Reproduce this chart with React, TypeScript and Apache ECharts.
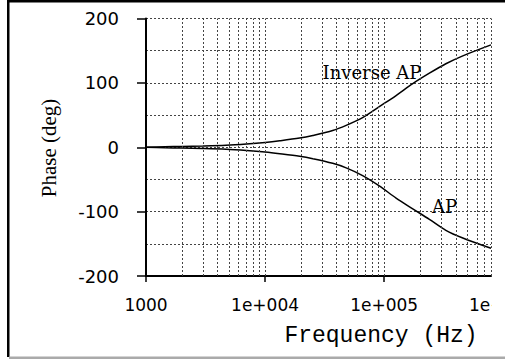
import React, { useEffect, useRef } from "react";
import * as echarts from "echarts";

const freqHz = [1000, 1440, 2000, 3000, 4700, 7000, 10000, 13300, 19500, 25200, 37000, 48000, 66000, 91000, 126000, 174000, 240000, 330000, 458000, 790000];
const inverseAP = [0, 0.8, 1.3, 1.9, 3, 5, 7.4, 10, 14.2, 18.3, 26, 34, 46, 63, 80.3, 98.8, 115, 129.7, 142, 159];
const allPass = [0, -0.8, -1.3, -1.9, -3, -5, -7.4, -10, -14, -17.8, -25, -32, -44, -60, -79, -95.7, -112, -129, -141, -157];
const gridFreqs = [2000, 3000, 4000, 5000, 6000, 7000, 8000, 9000, 10000, 20000, 30000, 40000, 50000, 60000, 70000, 80000, 90000, 100000, 200000, 300000, 400000, 500000, 600000, 700000, 790000];
const xTickValues = [1000, 10000, 100000];
const xMin = 1000;
const xMax = 790000;
const yMin = -200;
const yMax = 200;

function fmtX(v: number): string {
  const e = Math.round(Math.log10(v));
  if (e <= 3) return String(Math.round(v));
  return "1e+00" + e;
}

export default function App() {
  const ref = useRef<HTMLDivElement>(null);
  useEffect(() => {
    if (!ref.current) return;
    const chart = echarts.init(ref.current, null, { renderer: "svg" });
    const dotted = { type: [2, 2] as any, color: "#444", width: 1 };
    chart.setOption({
      animation: false,
      backgroundColor: "#fff",
      grid: { left: 146, right: 14, top: 18.5, bottom: 84, containLabel: false },
      xAxis: {
        type: "log",
        logBase: 10,
        min: xMin,
        max: xMax,
        axisLine: { show: true, onZero: false, lineStyle: { color: "#000", width: 2 } },
        axisTick: { show: true, length: 6, customValues: xTickValues, lineStyle: { color: "#000", width: 1.5 } },
        splitLine: { show: false },
        minorTick: { show: false },
        axisLabel: {
          customValues: xTickValues,
          formatter: (v: number) => fmtX(v),
          margin: 20,
          color: "#000",
          fontFamily: "DejaVu Sans",
          fontSize: 17,
        },
      },
      yAxis: {
        type: "value",
        min: yMin,
        max: yMax,
        interval: 100,
        axisLine: { show: true, onZero: false, lineStyle: { color: "#000", width: 2 } },
        axisTick: { show: true, length: 9, lineStyle: { color: "#000", width: 1.5 } },
        minorTick: { show: false, splitNumber: 2 },
        splitLine: { show: true, lineStyle: dotted },
        minorSplitLine: { show: true, lineStyle: dotted },
        axisLabel: { margin: 27, color: "#000", fontFamily: "DejaVu Sans", fontSize: 18 },
      },
      series: [
        {
          type: "line",
          name: "Inverse AP",
          data: freqHz.map((f, i) => [f, inverseAP[i]]),
          showSymbol: false,
          smooth: 0.3,
          lineStyle: { color: "#000", width: 1.5 },
          z: 3,
        },
        {
          type: "line",
          name: "AP",
          data: freqHz.map((f, i) => [f, allPass[i]]),
          showSymbol: false,
          smooth: 0.3,
          lineStyle: { color: "#000", width: 1.5 },
          z: 3,
          markLine: {
            silent: true,
            symbol: ["none", "none"],
            label: { show: false },
            lineStyle: dotted,
            data: gridFreqs.map((f) => ({ xAxis: f })),
          },
        },
      ],
      graphic: [
        { type: "rect", shape: { x: 7, y: 0, width: 498, height: 2.5 }, style: { fill: "#000" }, z: 100 },
        { type: "rect", shape: { x: 7, y: 0, width: 2.5, height: 357 }, style: { fill: "#000" }, z: 100 },
        { type: "rect", shape: { x: 9, y: 356.5, width: 496, height: 2.5 }, style: { fill: "#aaa" }, z: 100 },
        {
          type: "text",
          x: 49,
          y: 148,
          rotation: Math.PI / 2,
          style: { text: "Phase (deg)", font: "21px 'Liberation Serif'", fill: "#000", align: "center", verticalAlign: "middle" },
          z: 100,
        },
        {
          type: "text",
          x: 381,
          y: 336,
          style: { text: "Frequency (Hz)", font: "23px 'Liberation Mono'", fill: "#000", align: "center", verticalAlign: "middle" },
          z: 100,
        },
        {
          type: "text",
          x: 372,
          y: 72,
          style: { text: "Inverse AP", font: "18px 'DejaVu Serif'", fill: "#000", align: "center", verticalAlign: "middle" },
          z: 100,
        },
        {
          type: "text",
          x: 444.5,
          y: 206,
          style: { text: "AP", font: "18px 'DejaVu Serif'", fill: "#000", align: "center", verticalAlign: "middle" },
          z: 100,
        },
        {
          type: "text",
          x: 503,
          y: 296,
          style: { text: "1e+006", font: "17px 'DejaVu Sans'", fill: "#000", align: "center", verticalAlign: "top" },
          z: 100,
        },
        { type: "rect", shape: { x: 492, y: 290, width: 13, height: 28 }, style: { fill: "#fff" }, z: 101 },
      ],
    });
    return () => chart.dispose();
  }, []);
  return <div ref={ref} style={{ position: "absolute", left: 0, top: 0, width: 505, height: 360 }} />;
}
